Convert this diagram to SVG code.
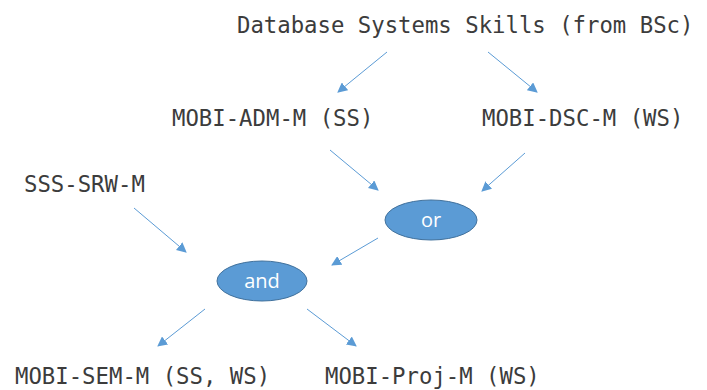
<svg xmlns="http://www.w3.org/2000/svg" width="707" height="390" viewBox="0 0 707 390">
<style>
.t{font-family:"DejaVu Sans Mono","Liberation Mono",monospace;font-size:22.3px;fill:#3c3c3c}
.c{stroke:#5B9BD5;stroke-width:1;fill:none;marker-end:url(#a)}
.e{fill:#5B9BD5;stroke:#41719C;stroke-width:1}
.et{font-family:"Open Sans","Liberation Sans",sans-serif;font-size:20px;fill:#fff;text-anchor:middle}
</style>
<defs>
<marker id="a" viewBox="0 0 10 10" refX="9" refY="5" markerWidth="10" markerHeight="10" markerUnits="userSpaceOnUse" orient="auto">
<path d="M0,0 L10,5 L0,10 z" fill="#5B9BD5"/>
</marker>
</defs>
<rect width="707" height="390" fill="#fff"/>
<g id="connectors">
<line class="c" x1="387" y1="52" x2="338" y2="92"/>
<line class="c" x1="488" y1="52" x2="537" y2="92"/>
<line class="c" x1="330" y1="150" x2="378" y2="190"/>
<line class="c" x1="525" y1="153" x2="482" y2="191"/>
<line class="c" x1="378" y1="238" x2="332" y2="265"/>
<line class="c" x1="134" y1="208" x2="186" y2="252"/>
<line class="c" x1="205" y1="309" x2="158" y2="346"/>
<line class="c" x1="307" y1="309" x2="356" y2="346"/>
</g>
<g id="n-db"><text class="t" x="237" y="33">Database Systems Skills (from BSc)</text></g>
<g id="n-adm"><text class="t" x="172" y="126">MOBI-ADM-M (SS)</text></g>
<g id="n-dsc"><text class="t" x="482" y="126">MOBI-DSC-M (WS)</text></g>
<g id="n-srw"><text class="t" x="24" y="192">SSS-SRW-M</text></g>
<g id="n-or"><ellipse class="e" cx="431" cy="220" rx="46" ry="20"/><text class="et" x="431" y="227">or</text></g>
<g id="n-and"><ellipse class="e" cx="262" cy="281" rx="45" ry="20"/><text class="et" x="262" y="288">and</text></g>
<g id="n-sem"><text class="t" x="15" y="384">MOBI-SEM-M (SS, WS)</text></g>
<g id="n-proj"><text class="t" x="325" y="384">MOBI-Proj-M (WS)</text></g>
</svg>
